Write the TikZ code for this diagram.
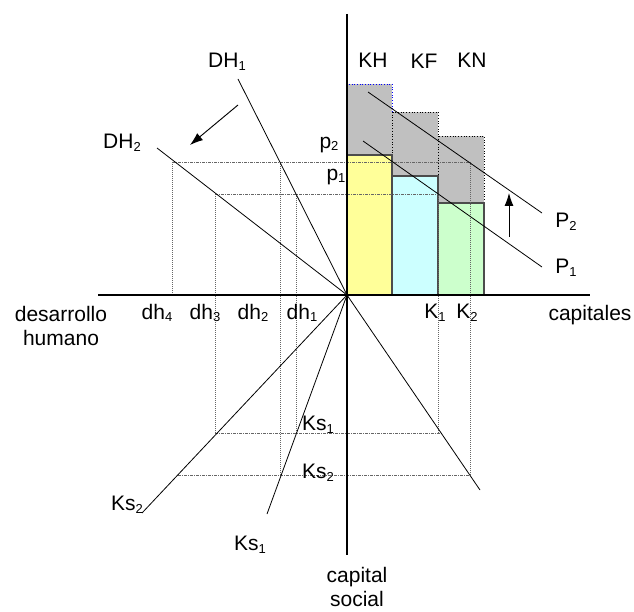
\documentclass[tikz,border=0pt]{standalone}
\usepackage{fontspec}
\setmainfont{Liberation Sans}
\usetikzlibrary{arrows.meta}
\definecolor{amarillo}{HTML}{FFFF99}
\definecolor{celeste}{HTML}{CCFFFF}
\definecolor{verde}{HTML}{CCFFCC}
\definecolor{gris}{HTML}{C0C0C0}
\newcommand{\bajo}[1]{\raisebox{-2.5pt}{\fontsize{13}{13}\selectfont #1}}
\tikzset{
  etiq/.style={font=\fontsize{21}{24}\selectfont, inner sep=1pt},
  guiav/.style={black!60, line width=0.6pt, dash pattern=on 1pt off 1pt},
  guiah/.style={black!60, line width=0.6pt, dash pattern=on 3pt off 1pt on 1pt off 1pt},
  recta/.style={line width=0.8pt},
  eje/.style={line width=1.1pt},
  barra/.style={draw=black!70, line width=1.4pt},
  tope/.style={fill=gris, draw=black, line width=0.7pt, dotted},
  flecha/.style={line width=0.9pt, -{Latex[length=13pt,width=9pt]}},
}
\begin{document}
\begin{tikzpicture}[x=1pt,y=-1pt]
\useasboundingbox (0,0) rectangle (634,612);
% origen
\coordinate (O) at (347,295);
% barras de capitales
\draw[tope, draw=blue] (347,84) rectangle (392,155);
\draw[tope] (392,112) rectangle (438,176);
\draw[tope] (438,136) rectangle (484,203);
\draw[barra, fill=amarillo] (347,155) rectangle (392,295);
\draw[barra, fill=celeste] (392,176) rectangle (438,295);
\draw[barra, fill=verde] (438,203) rectangle (484,295);
% lineas guia
\draw[guiah] (172,162) -- (470,162);
\draw[guiah] (215,194) -- (438,194);
\draw[guiah] (215,433) -- (441,433);
\draw[guiah] (178,475) -- (470,475);
\draw[guiav] (172,162) -- (172,295);
\draw[guiav] (215,194) -- (215,433);
\draw[guiav] (280,162) -- (280,475);
\draw[guiav] (296,194) -- (296,433);
\draw[guiav] (438,194) -- (438,433);
\draw[guiav] (470,162) -- (470,475);
% ejes
\coordinate (Xi) at (98,295);
\coordinate (Xd) at (590,295);
\coordinate (Ys) at (347,14);
\coordinate (Yi) at (347,555);
\draw[eje] (Xi) -- (Xd);
\draw[eje] (Ys) -- (Yi);
% rectas DH
\coordinate (DH1) at (238,79);
\coordinate (DH2) at (157,148);
\draw[recta] (O) -- (DH1);
\draw[recta] (O) -- (DH2);
% rectas Ks
\coordinate (Ks2) at (142,513);
\coordinate (Ks1) at (267,514);
\coordinate (Kd) at (480,490);
\draw[recta] (O) -- (Ks2);
\draw[recta] (O) -- (Ks1);
\draw[recta] (O) -- (Kd);
% rectas P
\coordinate (P2a) at (368,92);
\coordinate (P2b) at (542,213);
\coordinate (P1a) at (363,141);
\coordinate (P1b) at (542,267);
\draw[recta] (P2a) -- (P2b);
\draw[recta] (P1a) -- (P1b);
% flechas
\coordinate (Fa) at (238,105);
\coordinate (Fb) at (190,145);
\coordinate (Fc) at (509,237);
\coordinate (Fd) at (509,193);
\draw[flecha] (Fa) -- (Fb);
\draw[flecha] (Fc) -- (Fd);
% textos
\node[etiq] (tDH1) at (227,62) {DH\bajo{1}};
\node[etiq] (tDH2) at (122,143) {DH\bajo{2}};
\node[etiq] (tp2) at (329,145) {p\bajo{2}};
\node[etiq] (tp1) at (336,177) {p\bajo{1}};
\node[etiq] (tKH) at (373,60) {KH};
\node[etiq] (tKF) at (424,61) {KF};
\node[etiq] (tKN) at (472,60) {KN};
\node[etiq] (tP2) at (566,222) {P\bajo{2}};
\node[etiq] (tP1) at (566,268) {P\bajo{1}};
\node[etiq] (tdh4) at (157,313) {dh\bajo{4}};
\node[etiq] (tdh3) at (205,313) {dh\bajo{3}};
\node[etiq] (tdh2) at (253,313) {dh\bajo{2}};
\node[etiq] (tdh1) at (302,313) {dh\bajo{1}};
\node[etiq] (tK1) at (435,313) {K\bajo{1}};
\node[etiq] (tK2) at (467,313) {K\bajo{2}};
\node[etiq] (tcap) at (590,315) {capitales};
\node[etiq, align=center] (tdes) at (61,326) {desarrollo\\humano};
\node[etiq] (tKs1i) at (318,425) {Ks\bajo{1}};
\node[etiq] (tKs2i) at (318,473) {Ks\bajo{2}};
\node[etiq] (tKs2) at (127,505) {Ks\bajo{2}};
\node[etiq] (tKs1) at (250,545) {Ks\bajo{1}};
\node[etiq, align=center] (tsoc) at (357,587) {capital\\social};
\end{tikzpicture}
\end{document}
